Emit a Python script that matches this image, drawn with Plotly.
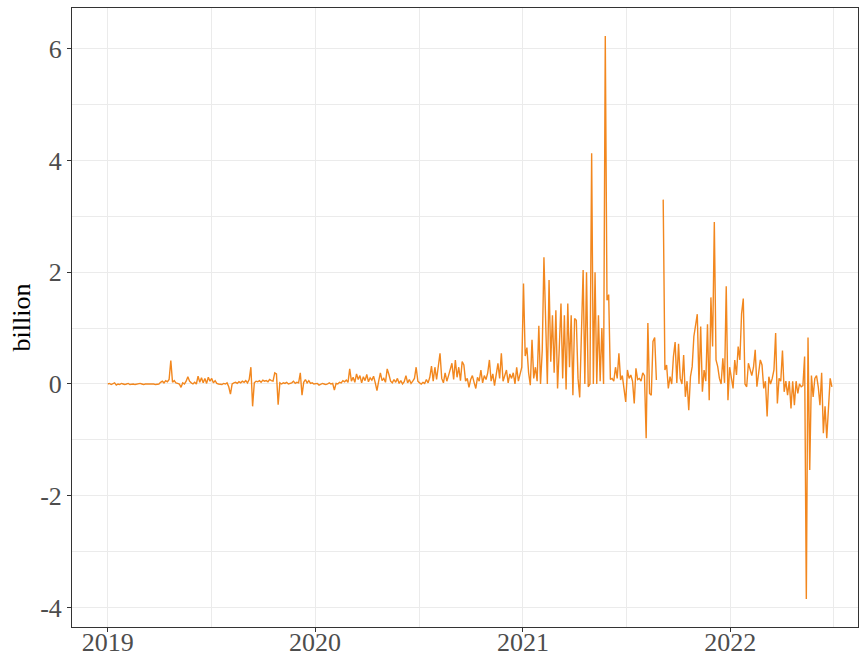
import pandas as pd
import plotly.graph_objects as go

# values in billions, one observation every 3 days starting 2019-01-01
y2019 = [
    0.0, 0.01, -0.01, 0.0, 0.02, -0.02, 0.0, -0.01, 0.01, 0.0,
    -0.01, 0.0, 0.01, -0.01, 0.0, 0.0, -0.01, 0.0, 0.0, 0.01,
    0.0, -0.01, 0.0, 0.0, 0.0, 0.01, 0.0, 0.0, -0.01, 0.0,
    0.0, 0.03, 0.05, 0.02, 0.06, 0.04, 0.08, 0.42, 0.03, 0.06,
    0.02, 0.01, 0.0, -0.06, 0.02, 0.0, 0.05, 0.13, 0.05, 0.02,
    0.0, 0.03, 0.0, 0.14, 0.03, 0.11, 0.02, 0.1, 0.01, 0.12,
    0.05, 0.1, 0.02, 0.06, 0.01, 0.0, 0.0, -0.01, 0.01, 0.0,
    0.02, -0.05, -0.18, 0.0, 0.02, 0.03, 0.01, 0.04, 0.02, 0.05,
    0.03, 0.06, 0.02, 0.08, 0.3, -0.4, 0.02, 0.05, 0.04, 0.06,
    0.03, 0.07, 0.05, 0.06, 0.04, 0.08, 0.06, 0.05, 0.2, 0.18,
    -0.37, 0.02, 0.0, 0.02, 0.01, 0.03, 0.0, 0.01, 0.02, 0.05,
    0.01, 0.03, 0.02, 0.2, -0.2, 0.03, 0.08, 0.02, 0.06, 0.01,
    0.02, 0.0,
]
y2020 = [
    0.0, 0.01, -0.02, 0.0, 0.01, 0.0, -0.01, 0.0, 0.02, 0.0,
    0.01, -0.11, 0.01, 0.0, 0.03, 0.02, 0.06, 0.04, 0.07, 0.03,
    0.27, 0.05, 0.12, 0.03, 0.18, 0.08, 0.15, 0.02, 0.13, 0.06,
    0.17, 0.04, 0.11, 0.07, 0.14, 0.02, -0.12, 0.05, 0.2, 0.06,
    0.1, 0.03, 0.27, 0.17, 0.05, 0.02, 0.08, 0.03, 0.1, 0.01,
    0.06, 0.0, 0.04, 0.15, 0.02, 0.08, 0.01, 0.05, 0.1, 0.3,
    0.05, 0.02, 0.0, 0.03, 0.01, 0.08, 0.02, 0.12, 0.32, 0.05,
    0.3, 0.08, 0.28, 0.55, 0.1, 0.02, 0.2, 0.05, 0.15, 0.25,
    0.37, 0.08, 0.43, 0.12, 0.3, 0.06, 0.4, 0.34, 0.05, 0.1,
    -0.06, 0.08, 0.15, 0.03, -0.08, 0.12, 0.05, 0.25, 0.02, 0.15,
    0.08, 0.2, 0.43, 0.05, 0.18, -0.03, 0.22, 0.37, 0.1, 0.55,
    0.05, 0.15, 0.25, 0.02, 0.18, 0.1, 0.2, 0.0, 0.3, 0.05, 0.2,
]
y2021a = [
    0.3, 1.8, 0.5, 0.65, 0.2, -0.02, 0.79, 0.1, 0.3, 0.05,
    1.04, 0.0, 0.6, 2.27, 1.2, 0.0, 1.86, 0.4, 1.23, 0.2,
    1.32, -0.08, 0.64, 1.44, 0.1, 1.23, -0.1, 1.44, 0.3, 1.23,
    -0.2, 1.17, 1.14, 0.1, -0.24, 1.08, 2.04, 0.0, 2.0, -0.05,
    0.0, 4.13, 0.0, 2.0, 0.0, 1.23, 0.05, 1.0, 0.0, 6.23,
    1.5, 1.6, 0.08, 0.1, 0.05, 0.3, 0.1,
]
y2021b = [
    0.55, 0.07, 0.15, -0.1, -0.32, 0.25, 0.1, 0.16, 0.05, -0.35,
    0.28, 0.08, 0.1, 0.05, 0.2, 0.15, -0.97, 1.09, -0.17, -0.2,
    0.76, 0.83, 0.07, None, None, None, 3.3, 0.25, 0.34, -0.08,
    0.13, 0.0, 0.49, 0.75, 0.02, 0.72, 0.1, 0.0, 0.52, -0.23,
    0.05, -0.47, 0.13, 0.31, 0.85, 1.09, 1.25, 0.0, 1.03, -0.14,
    0.25, 0.05, 1.07, -0.29, 1.55, 0.67, 2.9, 0.43, 0.31, 0.1,
    0.0, 0.46, 0.02, 1.75, -0.29, 0.3,
]
y2022 = [
    0.1, -0.08, 0.43, 0.16, 0.67, 0.43, 1.26, 1.53, 0.0, -0.05,
    0.37, 0.28, 0.15, 0.3, 0.61, -0.05, 0.2, 0.43, 0.34, -0.08,
    0.05, -0.58, 0.13, 0.0, 0.1, 0.25, 0.91, -0.35, 0.1, 0.05,
    0.6, -0.14, 0.05, -0.2, 0.05, -0.44, 0.05, -0.38, 0.05, -0.17,
    0.0, -0.05, -0.03, 0.49, -3.85, 0.83, -1.54, 0.15, -0.23, 0.1,
    0.15, -0.05, -0.38, 0.2, -0.88, -0.4, -0.97, -0.35, 0.1, -0.05,
]

values = y2019 + y2020 + y2021a + y2021b + y2022
dates = pd.date_range("2019-01-01", periods=len(values), freq="3D")

year_ticks = ["2019-01-01", "2020-01-01", "2021-01-01", "2022-01-01"]
year_labels = ["2019", "2020", "2021", "2022"]
y_ticks = [-4, -2, 0, 2, 4, 6]
y_labels = ["-4", "-2", "0", "2", "4", "6"]

FONT = "'Liberation Serif', 'DejaVu Serif', serif"
GRID = "#ebebeb"
AX = "#333333"
FS = 26

fig = go.Figure()
fig.add_trace(go.Scatter(
    x=dates, y=values, mode="lines",
    line=dict(color="#f2871e", width=1.4),
    connectgaps=False, showlegend=False,
))

fig.update_layout(
    width=859, height=659,
    margin=dict(l=72, r=1, t=8, b=32, autoexpand=False),
    paper_bgcolor="white", plot_bgcolor="white",
    font=dict(family=FONT, size=FS, color="#4d4d4d"),
)
fig.update_xaxes(
    type="date", automargin=False,
    range=["2018-10-30", "2022-08-14"],
    tickvals=year_ticks, ticktext=year_labels,
    showgrid=True, gridcolor=GRID, gridwidth=1,
    minor=dict(tickvals=["2019-07-02", "2020-07-02", "2021-07-02", "2022-07-02"],
               showgrid=True, gridcolor=GRID, gridwidth=0.6, ticks=""),
    showline=True, linecolor=AX, linewidth=1, mirror=True,
    ticks="outside", ticklen=4, tickcolor=AX, tickwidth=1,
    ticklabelstandoff=-12,
    tickfont=dict(family=FONT, size=FS, color="#4d4d4d"),
    zeroline=False,
)
fig.update_yaxes(
    automargin=False,
    range=[-4.35, 6.73],
    tickvals=y_ticks, ticktext=y_labels,
    showgrid=True, gridcolor=GRID, gridwidth=1,
    minor=dict(tickvals=[-3, -1, 1, 3, 5], showgrid=True, gridcolor=GRID,
               gridwidth=0.6, ticks=""),
    showline=True, linecolor=AX, linewidth=1, mirror=True,
    ticks="outside", ticklen=4, tickcolor=AX, tickwidth=1,
    tickfont=dict(family=FONT, size=FS, color="#4d4d4d"),
    zeroline=False,
    title=dict(text="billion", font=dict(family=FONT, size=FS, color="black"),
               standoff=2),
)

fig.write_html(
    "out.html",
    config={"displayModeBar": False},
    post_script="document.body.style.margin='0';document.body.style.padding='0';",
)
